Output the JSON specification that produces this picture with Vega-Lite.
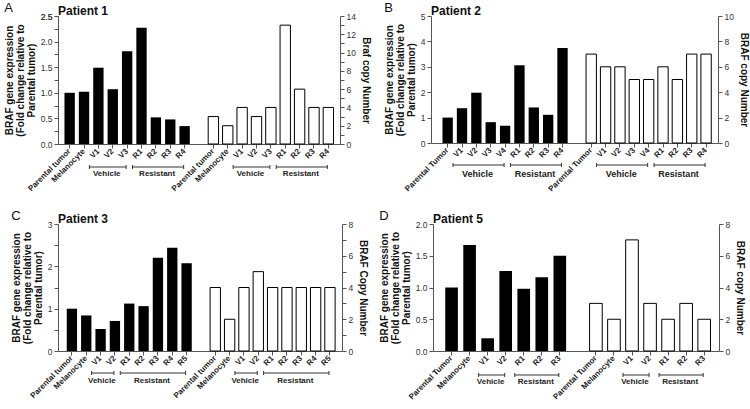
{
"$schema":"https://vega.github.io/schema/vega-lite/v6.json",
"padding":{"left":4,"top":2,"right":2,"bottom":2},
"config":{"font":"Liberation Sans","view":{"stroke":null},
 "axis":{"grid":false,"domainColor":"#555","tickColor":"#555","labelColor":"#333","titleColor":"#111","labelFontSize":8.5,"titleFontSize":10,"titleFontWeight":"bold","tickSize":4,"labelOverlap":false},
 "axisX":{"labelAngle":-45,"labelAlign":"right","labelBaseline":"middle","labelFontWeight":"bold","labelFontSize":8,"labelPadding":2,"labelColor":"#222","labelBound":false},
 "axisLeft":{"titleLineHeight":11,"titlePadding":4},
 "axisRight":{"titlePadding":5},
 "title":{"color":"#111"}},
"spacing":17,
"vconcat":[
{"hconcat":[
{"title":{"text":"A","anchor":"start","frame":"bounds","fontSize":13,"fontWeight":"normal","offset":-10},
 "vconcat":[{
 "width":282,"height":128,
 "title":{"text":"Patient 1","anchor":"start","frame":"group","fontSize":12,"fontWeight":"bold","offset":-6},
 "resolve":{"scale":{"y":"independent"}},
 "layer":[
  {"data":{"values":[{"key":"E|Parental tumor","value":1.0},{"key":"E|Melanocyte","value":1.02},{"key":"E|V1","value":1.49},{"key":"E|V2","value":1.07},{"key":"E|V3","value":1.81},{"key":"E|R1","value":2.27},{"key":"E|R2","value":0.52},{"key":"E|R3","value":0.48},{"key":"E|R4","value":0.35}]},
   "mark":{"type":"bar","color":"black"},
   "encoding":{
    "x":{"field":"key","type":"nominal","title":null,
     "scale":{"domain":["E|Parental tumor","E|Melanocyte","E|V1","E|V2","E|V3","E|R1","E|R2","E|R3","E|R4","gap","C|Parental tumor","C|Melanocyte","C|V1","C|V2","C|V3","C|R1","C|R2","C|R3","C|R4"],"paddingInner":0.28,"paddingOuter":0.45,"align":0.5},
     "axis":{"values":["E|Parental tumor","E|Melanocyte","E|V1","E|V2","E|V3","E|R1","E|R2","E|R3","E|R4","C|Parental tumor","C|Melanocyte","C|V1","C|V2","C|V3","C|R1","C|R2","C|R3","C|R4"],"labelExpr":"split(datum.value,'|')[1]","labelOverlap":false}},
    "y":{"field":"value","type":"quantitative","scale":{"domain":[0,2.5],"nice":false},
     "axis":{"orient":"left","labelOverlap":false,"labelBound":false,"labelFlush":false,"tickCount":20,"title":["BRAF gene expression","(Fold change relative to","Parental tumor)"],"values":[0,0.5,1,1.5,2,2.5],"labelExpr":"format(datum.value,'.1f')"}}}},
  {"data":{"values":[{"label":"Vehicle","start":"E|V1","end":"E|V3","at":"E|V2","between":false},{"label":"Resistant","start":"E|R1","end":"E|R4","at":"E|R2","between":true},{"label":"Vehicle","start":"C|V1","end":"C|V3","at":"C|V2","between":false},{"label":"Resistant","start":"C|R1","end":"C|R4","at":"C|R2","between":true}]},
   "layer":[
    {"mark":{"type":"rule","color":"#333","strokeWidth":1,"xOffset":-9,"x2Offset":-1,"yOffset":23},
     "encoding":{"x":{"field":"start","type":"nominal","title":null},"x2":{"field":"end"},"y":{"datum":0,"scale":{"domain":[0,2.5],"nice":false},"axis":{"orient":"left","values":[0.25,0.75,1.25,1.75,2.25,2.5],"tickCount":20,"labelOverlap":false,"labelBound":false,"labelFlush":false,"labelExpr":"datum.value == 2.5 ? '2.5' : ''","domain":false,"title":null}}}},
    {"mark":{"type":"rule","color":"#333","strokeWidth":1,"xOffset":-9,"yOffset":21,"y2Offset":25},
     "encoding":{"x":{"field":"start","type":"nominal","title":null},"y":{"datum":0},"y2":{"datum":0}}},
    {"mark":{"type":"rule","color":"#333","strokeWidth":1,"xOffset":-1,"yOffset":21,"y2Offset":25},
     "encoding":{"x":{"field":"end","type":"nominal","title":null},"y":{"datum":0},"y2":{"datum":0}}},
    {"transform":[{"filter":"!datum.between"}],
     "mark":{"type":"text","fontSize":8,"fontWeight":"bold","color":"#222","baseline":"middle","align":"center","xOffset":-6,"yOffset":30},
     "encoding":{"x":{"field":"at","type":"nominal","title":null},"y":{"datum":0},"text":{"field":"label"}}},
    {"transform":[{"filter":"datum.between"}],
     "mark":{"type":"text","fontSize":8,"fontWeight":"bold","color":"#222","baseline":"middle","align":"center","xOffset":-6,"yOffset":30},
     "encoding":{"x":{"field":"at","type":"nominal","title":null,"bandPosition":1.2},"y":{"datum":0},"text":{"field":"label"}}}
   ]},
  {"data":{"values":[{"key":"C|Parental tumor","value":3},{"key":"C|Melanocyte","value":2},{"key":"C|V1","value":4},{"key":"C|V2","value":3},{"key":"C|V3","value":4},{"key":"C|R1","value":13},{"key":"C|R2","value":6},{"key":"C|R3","value":4},{"key":"C|R4","value":4}]},
   "mark":{"type":"bar","fill":"white","stroke":"black","strokeWidth":1},
   "encoding":{
    "x":{"field":"key","type":"nominal","title":null},
    "y":{"field":"value","type":"quantitative","scale":{"domain":[0,14],"nice":false},
     "axis":{"orient":"right","labelOverlap":false,"title":"Braf copy Number","values":[0,1,2,3,4,5,6,7,8,9,10,11,12,13,14],"labelExpr":"datum.value % 2 == 0 ? format(datum.value,'d') : ''"}}}}
 ]}]},
{"title":{"text":"B","anchor":"start","frame":"bounds","fontSize":13,"fontWeight":"normal","offset":-10},
 "vconcat":[{
 "width":287,"height":127,
 "title":{"text":"Patient 2","anchor":"start","frame":"group","fontSize":12,"fontWeight":"bold","offset":-6},
 "resolve":{"scale":{"y":"independent"}},
 "layer":[
  {"data":{"values":[{"key":"E|Parental Tumor","value":1.0},{"key":"E|V1","value":1.37},{"key":"E|V2","value":1.98},{"key":"E|V3","value":0.82},{"key":"E|V4","value":0.68},{"key":"E|R1","value":3.06},{"key":"E|R2","value":1.4},{"key":"E|R3","value":1.11},{"key":"E|R4","value":3.74}]},
   "mark":{"type":"bar","color":"black"},
   "encoding":{
    "x":{"field":"key","type":"nominal","title":null,
     "scale":{"domain":["E|Parental Tumor","E|V1","E|V2","E|V3","E|V4","E|R1","E|R2","E|R3","E|R4","gap","C|Parental Tumor","C|V1","C|V2","C|V3","C|V4","C|R1","C|R2","C|R3","C|R4"],"paddingInner":0.28,"paddingOuter":0.635,"align":0.63},
     "axis":{"values":["E|Parental Tumor","E|V1","E|V2","E|V3","E|V4","E|R1","E|R2","E|R3","E|R4","C|Parental Tumor","C|V1","C|V2","C|V3","C|V4","C|R1","C|R2","C|R3","C|R4"],"labelExpr":"split(datum.value,'|')[1]","labelOverlap":false}},
    "y":{"field":"value","type":"quantitative","scale":{"domain":[0,5],"nice":false},
     "axis":{"orient":"left","labelOverlap":false,"title":["BRAF gene expression","(Fold change relative to","Parental tumor)"],"values":[0,1,2,3,4,5],"labelExpr":"format(datum.value,'d')"}}}},
  {"data":{"values":[{"label":"Vehicle","start":"E|V1","end":"E|V4","at":"E|V2","between":true},{"label":"Resistant","start":"E|R1","end":"E|R4","at":"E|R2","between":true},{"label":"Vehicle","start":"C|V1","end":"C|V4","at":"C|V2","between":true},{"label":"Resistant","start":"C|R1","end":"C|R4","at":"C|R2","between":true}]},
   "layer":[
    {"mark":{"type":"rule","color":"#333","strokeWidth":1,"xOffset":-9,"x2Offset":-1,"yOffset":22},
     "encoding":{"x":{"field":"start","type":"nominal","title":null},"x2":{"field":"end"},"y":{"datum":0,"scale":{"domain":[0,1]},"axis":null}}},
    {"mark":{"type":"rule","color":"#333","strokeWidth":1,"xOffset":-9,"yOffset":20,"y2Offset":24},
     "encoding":{"x":{"field":"start","type":"nominal","title":null},"y":{"datum":0,"axis":null},"y2":{"datum":0}}},
    {"mark":{"type":"rule","color":"#333","strokeWidth":1,"xOffset":-1,"yOffset":20,"y2Offset":24},
     "encoding":{"x":{"field":"end","type":"nominal","title":null},"y":{"datum":0,"axis":null},"y2":{"datum":0}}},
    {"transform":[{"filter":"!datum.between"}],
     "mark":{"type":"text","fontSize":9,"fontWeight":"bold","color":"#222","baseline":"middle","align":"center","xOffset":-6,"yOffset":31},
     "encoding":{"x":{"field":"at","type":"nominal","title":null},"y":{"datum":0,"axis":null},"text":{"field":"label"}}},
    {"transform":[{"filter":"datum.between"}],
     "mark":{"type":"text","fontSize":9,"fontWeight":"bold","color":"#222","baseline":"middle","align":"center","xOffset":-6,"yOffset":31},
     "encoding":{"x":{"field":"at","type":"nominal","title":null,"bandPosition":1.2},"y":{"datum":0,"axis":null},"text":{"field":"label"}}}
   ]},
  {"data":{"values":[{"key":"C|Parental Tumor","value":7},{"key":"C|V1","value":6},{"key":"C|V2","value":6},{"key":"C|V3","value":5},{"key":"C|V4","value":5},{"key":"C|R1","value":6},{"key":"C|R2","value":5},{"key":"C|R3","value":7},{"key":"C|R4","value":7}]},
   "mark":{"type":"bar","fill":"white","stroke":"black","strokeWidth":1},
   "encoding":{
    "x":{"field":"key","type":"nominal","title":null},
    "y":{"field":"value","type":"quantitative","scale":{"domain":[0,10],"nice":false},
     "axis":{"orient":"right","labelOverlap":false,"title":"BRAF copy Number","values":[0,2,4,6,8,10],"labelExpr":"format(datum.value,'d')"}}}}
 ]}]}
],"spacing":13},
{"hconcat":[
{"title":{"text":"C","anchor":"start","frame":"bounds","fontSize":13,"fontWeight":"normal","offset":-10},
 "vconcat":[{
 "width":284,"height":127,
 "title":{"text":"Patient 3","anchor":"start","frame":"group","fontSize":12,"fontWeight":"bold","offset":-6},
 "resolve":{"scale":{"y":"independent"}},
 "layer":[
  {"data":{"values":[{"key":"E|Parental tumor","value":1.0},{"key":"E|Melanocyte","value":0.84},{"key":"E|V1","value":0.52},{"key":"E|V2","value":0.71},{"key":"E|R1","value":1.12},{"key":"E|R2","value":1.06},{"key":"E|R3","value":2.2},{"key":"E|R4","value":2.44},{"key":"E|R5","value":2.07}]},
   "mark":{"type":"bar","color":"black"},
   "encoding":{
    "x":{"field":"key","type":"nominal","title":null,
     "scale":{"domain":["E|Parental tumor","E|Melanocyte","E|V1","E|V2","E|R1","E|R2","E|R3","E|R4","E|R5","gap","C|Parental tumor","C|Melanocyte","C|V1","C|V2","C|R1","C|R2","C|R3","C|R4","C|R5"],"paddingInner":0.28,"paddingOuter":0.545,"align":0.56},
     "axis":{"values":["E|Parental tumor","E|Melanocyte","E|V1","E|V2","E|R1","E|R2","E|R3","E|R4","E|R5","C|Parental tumor","C|Melanocyte","C|V1","C|V2","C|R1","C|R2","C|R3","C|R4","C|R5"],"labelExpr":"split(datum.value,'|')[1]","labelOverlap":false}},
    "y":{"field":"value","type":"quantitative","scale":{"domain":[0,3],"nice":false},
     "axis":{"orient":"left","labelOverlap":false,"title":["BRAF gene expression","(Fold change relative to","Parental tumor)"],"values":[0,0.5,1,1.5,2,2.5,3],"labelExpr":"round(datum.value*2) % 2 == 0 ? format(datum.value,'d') : ''"}}}},
  {"data":{"values":[{"label":"Vehicle","start":"E|V1","end":"E|V2","at":"E|V1","between":true},{"label":"Resistant","start":"E|R1","end":"E|R5","at":"E|R3","between":false},{"label":"Vehicle","start":"C|V1","end":"C|V2","at":"C|V1","between":true},{"label":"Resistant","start":"C|R1","end":"C|R5","at":"C|R3","between":false}]},
   "layer":[
    {"mark":{"type":"rule","color":"#333","strokeWidth":1,"xOffset":-9,"x2Offset":-1,"yOffset":22},
     "encoding":{"x":{"field":"start","type":"nominal","title":null},"x2":{"field":"end"},"y":{"datum":0,"scale":{"domain":[0,1]},"axis":null}}},
    {"mark":{"type":"rule","color":"#333","strokeWidth":1,"xOffset":-9,"yOffset":20,"y2Offset":24},
     "encoding":{"x":{"field":"start","type":"nominal","title":null},"y":{"datum":0,"axis":null},"y2":{"datum":0}}},
    {"mark":{"type":"rule","color":"#333","strokeWidth":1,"xOffset":-1,"yOffset":20,"y2Offset":24},
     "encoding":{"x":{"field":"end","type":"nominal","title":null},"y":{"datum":0,"axis":null},"y2":{"datum":0}}},
    {"transform":[{"filter":"!datum.between"}],
     "mark":{"type":"text","fontSize":8,"fontWeight":"bold","color":"#222","baseline":"middle","align":"center","xOffset":-6,"yOffset":30},
     "encoding":{"x":{"field":"at","type":"nominal","title":null},"y":{"datum":0,"axis":null},"text":{"field":"label"}}},
    {"transform":[{"filter":"datum.between"}],
     "mark":{"type":"text","fontSize":8,"fontWeight":"bold","color":"#222","baseline":"middle","align":"center","xOffset":-6,"yOffset":30},
     "encoding":{"x":{"field":"at","type":"nominal","title":null,"bandPosition":1.2},"y":{"datum":0,"axis":null},"text":{"field":"label"}}}
   ]},
  {"data":{"values":[{"key":"C|Parental tumor","value":4},{"key":"C|Melanocyte","value":2},{"key":"C|V1","value":4},{"key":"C|V2","value":5},{"key":"C|R1","value":4},{"key":"C|R2","value":4},{"key":"C|R3","value":4},{"key":"C|R4","value":4},{"key":"C|R5","value":4}]},
   "mark":{"type":"bar","fill":"white","stroke":"black","strokeWidth":1},
   "encoding":{
    "x":{"field":"key","type":"nominal","title":null},
    "y":{"field":"value","type":"quantitative","scale":{"domain":[0,8],"nice":false},
     "axis":{"orient":"right","labelOverlap":false,"title":"BRAF Copy Number","values":[0,1,2,3,4,5,6,7,8],"labelExpr":"datum.value % 2 == 0 ? format(datum.value,'d') : ''"}}}}
 ]}]},
{"title":{"text":"D","anchor":"start","frame":"bounds","fontSize":13,"fontWeight":"normal","offset":-10},
 "vconcat":[{
 "width":286,"height":127,
 "title":{"text":"Patient 5","anchor":"start","frame":"group","fontSize":12,"fontWeight":"bold","offset":-6},
 "resolve":{"scale":{"y":"independent"}},
 "layer":[
  {"data":{"values":[{"key":"E|Parental Tumor","value":1.0},{"key":"E|Melanocyte","value":1.67},{"key":"E|V1","value":0.2},{"key":"E|V2","value":1.26},{"key":"E|R1","value":0.98},{"key":"E|R2","value":1.16},{"key":"E|R3","value":1.5}]},
   "mark":{"type":"bar","color":"black"},
   "encoding":{
    "x":{"field":"key","type":"nominal","title":null,
     "scale":{"domain":["E|Parental Tumor","E|Melanocyte","E|V1","E|V2","E|R1","E|R2","E|R3","gap","C|Parental Tumor","C|Melanocyte","C|V1","C|V2","C|R1","C|R2","C|R3"],"paddingInner":0.3,"paddingOuter":0.575,"align":0.59},
     "axis":{"values":["E|Parental Tumor","E|Melanocyte","E|V1","E|V2","E|R1","E|R2","E|R3","C|Parental Tumor","C|Melanocyte","C|V1","C|V2","C|R1","C|R2","C|R3"],"labelExpr":"split(datum.value,'|')[1]","labelOverlap":false}},
    "y":{"field":"value","type":"quantitative","scale":{"domain":[0,2],"nice":false},
     "axis":{"orient":"left","labelOverlap":false,"title":["BRAF gene expression","(Fold change relative to","Parental tumor)"],"values":[0,0.5,1,1.5,2],"labelExpr":"format(datum.value,'.1f')"}}}},
  {"data":{"values":[{"label":"Vehicle","start":"E|V1","end":"E|V2","at":"E|V1","between":true},{"label":"Resistant","start":"E|R1","end":"E|R3","at":"E|R2","between":false},{"label":"Vehicle","start":"C|V1","end":"C|V2","at":"C|V1","between":true},{"label":"Resistant","start":"C|R1","end":"C|R3","at":"C|R2","between":false}]},
   "layer":[
    {"mark":{"type":"rule","color":"#333","strokeWidth":1,"xOffset":-9,"x2Offset":-1,"yOffset":24},
     "encoding":{"x":{"field":"start","type":"nominal","title":null},"x2":{"field":"end"},"y":{"datum":0,"scale":{"domain":[0,1]},"axis":null}}},
    {"mark":{"type":"rule","color":"#333","strokeWidth":1,"xOffset":-9,"yOffset":22,"y2Offset":26},
     "encoding":{"x":{"field":"start","type":"nominal","title":null},"y":{"datum":0,"axis":null},"y2":{"datum":0}}},
    {"mark":{"type":"rule","color":"#333","strokeWidth":1,"xOffset":-1,"yOffset":22,"y2Offset":26},
     "encoding":{"x":{"field":"end","type":"nominal","title":null},"y":{"datum":0,"axis":null},"y2":{"datum":0}}},
    {"transform":[{"filter":"!datum.between"}],
     "mark":{"type":"text","fontSize":8,"fontWeight":"bold","color":"#222","baseline":"middle","align":"center","xOffset":-6,"yOffset":31},
     "encoding":{"x":{"field":"at","type":"nominal","title":null},"y":{"datum":0,"axis":null},"text":{"field":"label"}}},
    {"transform":[{"filter":"datum.between"}],
     "mark":{"type":"text","fontSize":8,"fontWeight":"bold","color":"#222","baseline":"middle","align":"center","xOffset":-6,"yOffset":31},
     "encoding":{"x":{"field":"at","type":"nominal","title":null,"bandPosition":1.21},"y":{"datum":0,"axis":null},"text":{"field":"label"}}}
   ]},
  {"data":{"values":[{"key":"C|Parental Tumor","value":3},{"key":"C|Melanocyte","value":2},{"key":"C|V1","value":7},{"key":"C|V2","value":3},{"key":"C|R1","value":2},{"key":"C|R2","value":3},{"key":"C|R3","value":2}]},
   "mark":{"type":"bar","fill":"white","stroke":"black","strokeWidth":1},
   "encoding":{
    "x":{"field":"key","type":"nominal","title":null},
    "y":{"field":"value","type":"quantitative","scale":{"domain":[0,8],"nice":false},
     "axis":{"orient":"right","labelOverlap":false,"title":"BRAF copy Number","values":[0,2,4,6,8],"labelExpr":"format(datum.value,'d')"}}}}
 ]}]}
],"spacing":11}
]
}
